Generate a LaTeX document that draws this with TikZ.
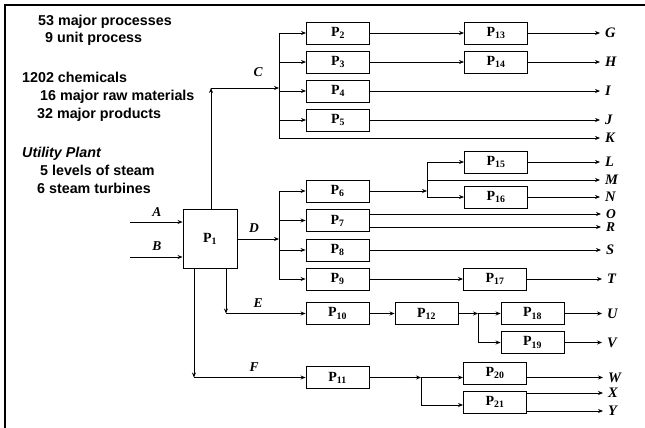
\documentclass[tikz,border=0pt]{standalone}
\usepackage{fontspec}
\setmainfont{Liberation Serif}
\setsansfont{Liberation Sans}
\usetikzlibrary{arrows.meta}
\begin{document}
\begin{tikzpicture}[x=1pt,y=-1pt,
  box/.style={draw, line width=0.9pt, minimum width=63pt, minimum height=22pt, inner sep=0pt,
    font=\fontsize{14}{14}\selectfont\bfseries},
  arr/.style={line width=0.8pt, -{Stealth[length=5pt,width=4pt]}},
  ln/.style={line width=0.8pt},
  outlab/.style={anchor=west, inner xsep=5pt, inner ysep=0pt, font=\fontsize{14.5}{14.5}\selectfont\bfseries\itshape},
  stream/.style={inner sep=0pt, font=\fontsize{13.5}{13.5}\selectfont\bfseries\itshape},
  info/.style={anchor=base west, inner sep=0pt, font=\sffamily\bfseries\fontsize{14.3}{14.3}\selectfont}]
\useasboundingbox (0,0) rectangle (645,428);
% frame
\draw[line width=2pt] (5,428) -- (5,5) -- (645,5);
% info text
\node[info] (t1) at (38,26) {53 major processes};
\node[info] (t2) at (45,43) {9 unit process};
\node[info] (t3) at (22,82) {1202 chemicals};
\node[info] (t4) at (40,100) {16 major raw materials};
\node[info] (t5) at (37,118) {32 major products};
\node[info,font=\sffamily\bfseries\itshape\fontsize{14.3}{14.3}\selectfont] (t6) at (22,157) {Utility Plant};
\node[info] (t7) at (40,175) {5 levels of steam};
\node[info] (t8) at (37,193) {6 steam turbines};
% process boxes
\node[draw, line width=0.9pt, minimum width=54pt, minimum height=59pt, inner sep=0pt,
  font=\fontsize{14}{14}\selectfont\bfseries] (P1) at (210,238.5) {P\textsubscript{1}};
\node[box] (P2) at (338,33) {P\textsubscript{2}};
\node[box] (P3) at (338,62) {P\textsubscript{3}};
\node[box] (P4) at (338,91) {P\textsubscript{4}};
\node[box] (P5) at (338,120) {P\textsubscript{5}};
\node[box] (P13) at (496,33) {P\textsubscript{13}};
\node[box] (P14) at (496,62) {P\textsubscript{14}};
\node[box] (P6) at (337.5,191) {P\textsubscript{6}};
\node[box] (P7) at (337.5,220.5) {P\textsubscript{7}};
\node[box] (P8) at (337.5,250) {P\textsubscript{8}};
\node[box] (P9) at (337.5,279) {P\textsubscript{9}};
\node[box] (P15) at (496,162) {P\textsubscript{15}};
\node[box] (P16) at (496,197) {P\textsubscript{16}};
\node[box] (P17) at (495,279) {P\textsubscript{17}};
\node[box] (P10) at (337.5,313.5) {P\textsubscript{10}};
\node[box] (P11) at (337.5,377.5) {P\textsubscript{11}};
\node[box] (P12) at (426.5,313.5) {P\textsubscript{12}};
\node[box] (P18) at (532.5,313.5) {P\textsubscript{18}};
\node[box] (P19) at (532.5,342.5) {P\textsubscript{19}};
\node[box] (P20) at (495,373) {P\textsubscript{20}};
\node[box] (P21) at (495,402) {P\textsubscript{21}};
% output labels
\node[outlab] (G) at (600,33) {G};
\node[outlab] (H) at (600,62) {H};
\node[outlab] (I) at (600,91) {I};
\node[outlab] (J) at (600,120) {J};
\node[outlab] (K) at (600,138) {K};
\node[outlab] (L) at (600,162) {L};
\node[outlab] (M) at (600,180) {M};
\node[outlab] (N) at (600,197) {N};
\node[outlab,font=\fontsize{13.5}{13.5}\selectfont\bfseries\itshape] (O) at (601,214) {O};
\node[outlab,font=\fontsize{13.5}{13.5}\selectfont\bfseries\itshape] (R) at (601,227) {R};
\node[outlab] (S) at (601,250) {S};
\node[outlab] (T) at (602,279) {T};
\node[outlab] (U) at (602,313.5) {U};
\node[outlab] (V) at (602,342.5) {V};
\node[outlab] (W) at (603,377.5) {W};
\node[outlab] (X) at (603,393) {X};
\node[outlab] (Y) at (603,411) {Y};
% stream labels
\node[stream] (lA) at (157,212) {A};
\node[stream] (lB) at (157,246) {B};
\node[stream] (lC) at (258,72) {C};
\node[stream] (lD) at (254,228) {D};
\node[stream] (lE) at (258,303) {E};
\node[stream] (lF) at (254,367) {F};
% feeds
\coordinate (a0) at (130,222);
\coordinate (b0) at (130,257);
\draw[arr] (a0) -- (a0 -| P1.west);
\draw[arr] (b0) -- (b0 -| P1.west);
% C branch
\coordinate (cUp) at (211,88);
\coordinate (cBr) at (279,88);
\coordinate (cTop) at (279,33);
\coordinate (cBot) at (279,138);
\draw[arr] (P1.north -| cUp) -- (cUp);
\draw[arr] (cUp) -- (cBr);
\draw[ln] (cTop) -- (cBot);
\draw[arr] (cTop) -- (P2);
\draw[arr] (cTop |- P3) -- (P3);
\draw[arr] (cTop |- P4) -- (P4);
\draw[arr] (cTop |- P5) -- (P5);
\draw[arr] (cBot) -- (K);
\draw[arr] (P2) -- (P13);
\draw[arr] (P3) -- (P14);
\draw[arr] (P13) -- (G);
\draw[arr] (P14) -- (H);
\draw[arr] (P4) -- (I);
\draw[arr] (P5) -- (J);
% D branch
\coordinate (dBr) at (279,239);
\draw[arr] (P1.east |- dBr) -- (dBr);
\draw[ln] (dBr |- P6) -- (dBr |- P9);
\draw[arr] (dBr |- P6) -- (P6);
\draw[arr] (dBr |- P7) -- (P7);
\draw[arr] (dBr |- P8) -- (P8);
\draw[arr] (dBr |- P9) -- (P9);
\coordinate (g6) at (427,191);
\draw[arr] (P6) -- (g6);
\draw[ln] (g6 |- P15) -- (g6 |- P16);
\draw[arr] (g6 |- P15) -- (P15);
\draw[arr] (g6 |- M) -- (M);
\draw[arr] (g6 |- P16) -- (P16);
\draw[arr] (P15) -- (L);
\draw[arr] (P16) -- (N);
\draw[arr] (P7.east |- O) -- (O);
\draw[arr] (P7.east |- R) -- (R);
\draw[arr] (P8) -- (S);
\draw[arr] (P9) -- (P17);
\draw[arr] (P17) -- (T);
% E branch
\coordinate (eC) at (226,313.5);
\draw[arr] (P1.south -| eC) -- (eC);
\draw[arr] (eC) -- (P10);
\draw[arr] (P10) -- (P12);
\coordinate (g12) at (478,313.5);
\draw[arr] (P12) -- (g12);
\draw[ln] (g12) -- (g12 |- P19);
\draw[arr] (g12) -- (P18);
\draw[arr] (g12 |- P19) -- (P19);
\draw[arr] (P18) -- (U);
\draw[arr] (P19) -- (V);
% F branch
\coordinate (fC) at (194,377.5);
\draw[arr] (P1.south -| fC) -- (fC);
\draw[arr] (fC) -- (P11);
\coordinate (g11) at (421,377.5);
\coordinate (g11b) at (421,405);
\draw[arr] (P11) -- (g11);
\draw[ln] (g11) -- (g11b);
\draw[arr] (g11) -- (g11 -| P20.west);
\draw[arr] (g11b) -- (g11b -| P21.west);
\draw[arr] (P20.east |- W) -- (W);
\draw[arr] (P21.east |- X) -- (X);
\draw[arr] (P21.east |- Y) -- (Y);
\end{tikzpicture}
\end{document}
